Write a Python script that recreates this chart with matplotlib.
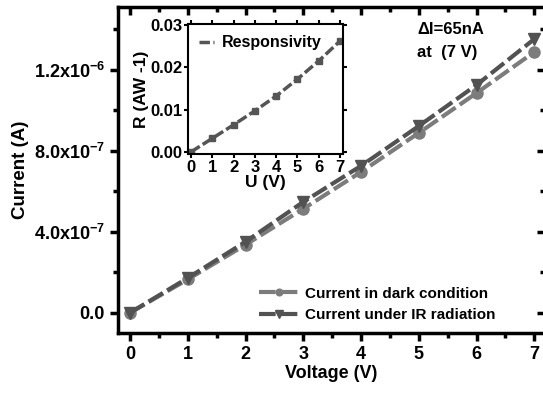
import matplotlib
matplotlib.use('Agg')
import matplotlib.pyplot as plt
import numpy as np
from matplotlib.ticker import MultipleLocator

plt.rcParams['font.family'] = ['Liberation Sans', 'DejaVu Sans']
plt.rcParams['font.weight'] = 'bold'
plt.rcParams['mathtext.fontset'] = 'custom'
plt.rcParams['mathtext.rm'] = 'Liberation Sans:bold'
plt.rcParams['mathtext.bf'] = 'Liberation Sans:bold'

# main data
voltage = [0, 1, 2, 3, 4, 5, 6, 7]
dark_current = [0.0, 1.65e-7, 3.36e-7, 5.14e-7, 6.96e-7, 8.89e-7, 1.086e-6, 1.289e-6]
ir_current = [0.0, 1.72e-7, 3.51e-7, 5.48e-7, 7.26e-7, 9.23e-7, 1.126e-6, 1.353e-6]

# inset data
u_volt = [0, 1, 2, 3, 4, 5, 6, 7]
responsivity = [0.0, 0.0032, 0.0064, 0.0097, 0.0132, 0.0172, 0.0215, 0.0262]

yticks = [0.0, 4.0e-7, 8.0e-7, 1.2e-6]
ytick_labels = ['0.0', r'4.0x10$^{\mathbf{-7}}$', r'8.0x10$^{\mathbf{-7}}$', r'1.2x10$^{\mathbf{-6}}$']

fig = plt.figure(figsize=(5.43, 3.94), dpi=100)
ax = fig.add_axes([0.2173, 0.1548, 0.787, 0.8274])

ax.plot(voltage, dark_current, color='#7c7c7c', lw=3, dashes=(4, 1.2),
        marker='o', ms=8, mec='#7c7c7c', mfc='#7c7c7c', label='Current in dark condition')
ax.plot(voltage, ir_current, color='#525252', lw=3, dashes=(4, 1.2),
        marker='v', ms=9, mec='#525252', mfc='#525252', label='Current under IR radiation')

ax.set_xlim(-0.208, 7.19)
ax.set_ylim(-1.0e-7, 1.511e-6)
ax.set_xticks(voltage)
ax.set_yticks(yticks)
ax.set_yticklabels(ytick_labels)
ax.xaxis.set_minor_locator(MultipleLocator(0.5))
ax.yaxis.set_minor_locator(MultipleLocator(2e-7))
ax.tick_params(which='both', direction='out', width=2.5, labelsize=13)
ax.tick_params(which='major', length=6)
ax.tick_params(which='minor', length=3.5)
for s in ax.spines.values():
    s.set_linewidth(2.5)

ax2 = ax.secondary_xaxis('top')
ax2.set_xticks(voltage)
ax2.xaxis.set_minor_locator(MultipleLocator(0.5))
ax2.tick_params(which='both', direction='in', width=2.5, labelbottom=False, labeltop=False)
ax2.tick_params(which='major', length=6)
ax2.tick_params(which='minor', length=3.5)
ax3 = ax.secondary_yaxis('right')
ax3.set_yticks(yticks)
ax3.yaxis.set_minor_locator(MultipleLocator(2e-7))
ax3.tick_params(which='both', direction='in', width=2.5, labelright=False)
ax3.tick_params(which='major', length=6)
ax3.tick_params(which='minor', length=3.5)

ax.set_xlabel('Voltage (V)', fontsize=13, fontweight='bold', labelpad=1)
ax.set_ylabel('Current (A)', fontsize=13.5, fontweight='bold', labelpad=3)

ax.legend(loc='lower right', bbox_to_anchor=(0.905, 0.005), frameon=False,
          fontsize=11, handlelength=2.6, borderaxespad=0.2, labelspacing=0.5,
          handletextpad=0.4, markerscale=0.6)

ax.text(0.70, 0.93, '\u0394I=65nA', transform=ax.transAxes, fontsize=12,
        fontweight='bold', va='center')
ax.text(0.70, 0.86, 'at  (7 V)', transform=ax.transAxes, fontsize=12,
        fontweight='bold', va='center')

# inset
ins = fig.add_axes([0.3462, 0.609, 0.2855, 0.330])
ins.plot(u_volt, responsivity, color='#555555', lw=2.5, dashes=(3, 1),
         marker='s', ms=5, mec='#555555', mfc='#555555', label='Responsivity')
ins.set_xlim(-0.14, 7.14)
ins.set_ylim(-0.0005, 0.0302)
ins.set_xticks(u_volt)
ins.set_yticks([0.0, 0.01, 0.02, 0.03])
ins.set_yticklabels(['0.00', '0.01', '0.02', '0.03'])
ins.tick_params(which='both', direction='out', width=1.5, length=3, labelsize=12, pad=1)
ins.tick_params(top=True, right=True)
for s in ins.spines.values():
    s.set_linewidth(1.5)
ins.set_xlabel('U (V)', fontsize=12.5, fontweight='bold', labelpad=0)
ins.set_ylabel('R (AW -1)', fontsize=12.5, fontweight='bold', labelpad=1)
ins.legend(loc='upper left', frameon=False, fontsize=11.5, handlelength=0.9,
           markerscale=0, borderaxespad=0.3, handletextpad=0.5)

fig.savefig('out.png', dpi=100)
